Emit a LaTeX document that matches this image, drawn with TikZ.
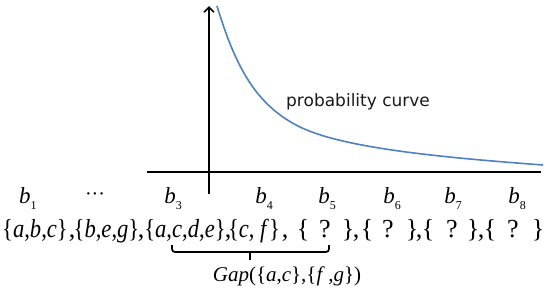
\documentclass[tikz,border=0pt]{standalone}
\usepackage{graphicx}
\usepackage{fontspec}
\setmainfont{Liberation Serif}
\newfontfamily\pcfont{DejaVu Sans}
\usetikzlibrary{arrows.meta}
\definecolor{curveblue}{RGB}{79,129,189}
\newcommand{\setfnt}{\fontsize{26}{28}\selectfont}
\newcommand{\sq}[1]{\scalebox{0.87}[1]{#1}}
\newcommand{\bl}[1]{\textit{b}\raisebox{-0.3em}{\fontsize{12}{12}\selectfont #1}}
\begin{document}
\begin{tikzpicture}[x=1pt,y=-1pt,
  axis/.style={line width=1.8pt,black},
  setpart/.style={anchor=base,inner sep=0pt,font=\setfnt},
  blabel/.style={anchor=base,inner sep=0pt,font=\fontsize{23}{25}\selectfont},
  curvestyle/.style={line width=1.6pt,curveblue}]
\useasboundingbox (0,0) rectangle (550,293);
% axes
\coordinate (xl) at (147,172);
\coordinate (xr) at (541,172);
\coordinate (yb) at (209,194);
\coordinate (yt) at (209,6);
\draw[axis] (xl) -- (xr);
\draw[axis,-{Straight Barb[length=5pt,width=10pt,line width=1.6pt]}] (yb) -- (yt);
% curve
\coordinate (c0) at (217,6);
\coordinate (c1) at (300,127);
\coordinate (c2) at (543,165);
\draw[curvestyle] (c0) .. controls (235,65) and (255,105) .. (c1) .. controls (345,149) and (450,158) .. (c2);
\node[anchor=base west,inner sep=0pt,font=\pcfont\fontsize{17}{19}\selectfont,text=black!90] (pc) at (286,106) {probability curve};
% b labels
\node[blabel] (b1) at (28,203) {\bl{1}};
\node[anchor=center,inner sep=0pt,font=\fontsize{20}{22}\selectfont] (dots) at (95,197) {\textperiodcentered\textperiodcentered\textperiodcentered};
\node[blabel] (b3) at (173,203) {\bl{3}};
\node[blabel] (b4) at (264,203) {\bl{4}};
\node[blabel] (b5) at (327,203) {\bl{5}};
\node[blabel] (b6) at (392,203) {\bl{6}};
\node[blabel] (b7) at (453,203) {\bl{7}};
\node[blabel] (b8) at (517,203) {\bl{8}};
% set line
\node[setpart] (s1) at (35,237) {\sq{\{\textit{a},\textit{b},\textit{c}\}}};
\node[setpart] (k1) at (72,237) {,};
\node[setpart] (s2) at (106.5,237) {\sq{\{\textit{b},\textit{e},\textit{g}\}}};
\node[setpart] (k2) at (141,237) {,};
\node[setpart] (s3) at (185,237) {\sq{\{\textit{a},\textit{c},\textit{d},\textit{e}\}}};
\node[setpart] (k3) at (228,237) {,};
\node[setpart] (s4) at (254,237) {\sq{\{\textit{c}, \textit{f}\}}};
\node[setpart] (k4) at (285,237) {,};
\node[setpart] (o1) at (303,237) {\{};
\node[setpart] (q1) at (325,237) {?};
\node[setpart] (c1) at (348,237) {\}};
\node[setpart] (k5) at (356,237) {,};
\node[setpart] (o2) at (367,237) {\{};
\node[setpart] (q2) at (388,237) {?};
\node[setpart] (c2) at (412,237) {\}};
\node[setpart] (k6) at (419,237) {,};
\node[setpart] (o3) at (428,237) {\{};
\node[setpart] (q3) at (452,237) {?};
\node[setpart] (c3) at (473,237) {\}};
\node[setpart] (k7) at (481,237) {,};
\node[setpart] (o4) at (490,237) {\{};
\node[setpart] (q4) at (513,237) {?};
\node[setpart] (c4) at (538,237) {\}};
% bracket
\coordinate (bl) at (172,245);
\coordinate (br) at (329,245);
\coordinate (bm) at (250,252);
\coordinate (bt) at (250,260);
\draw[line width=1.7pt,rounded corners=3pt] (bl) |- (bm) -| (br);
\draw[line width=1.7pt] (bm) -- (bt);
\node[anchor=base,inner sep=0pt,font=\fontsize{21}{23}\selectfont] (gap) at (287,281) {\textit{Gap}(\{\textit{a},\textit{c}\},\{\textit{f}\,,\textit{g}\})};
\end{tikzpicture}
\end{document}
